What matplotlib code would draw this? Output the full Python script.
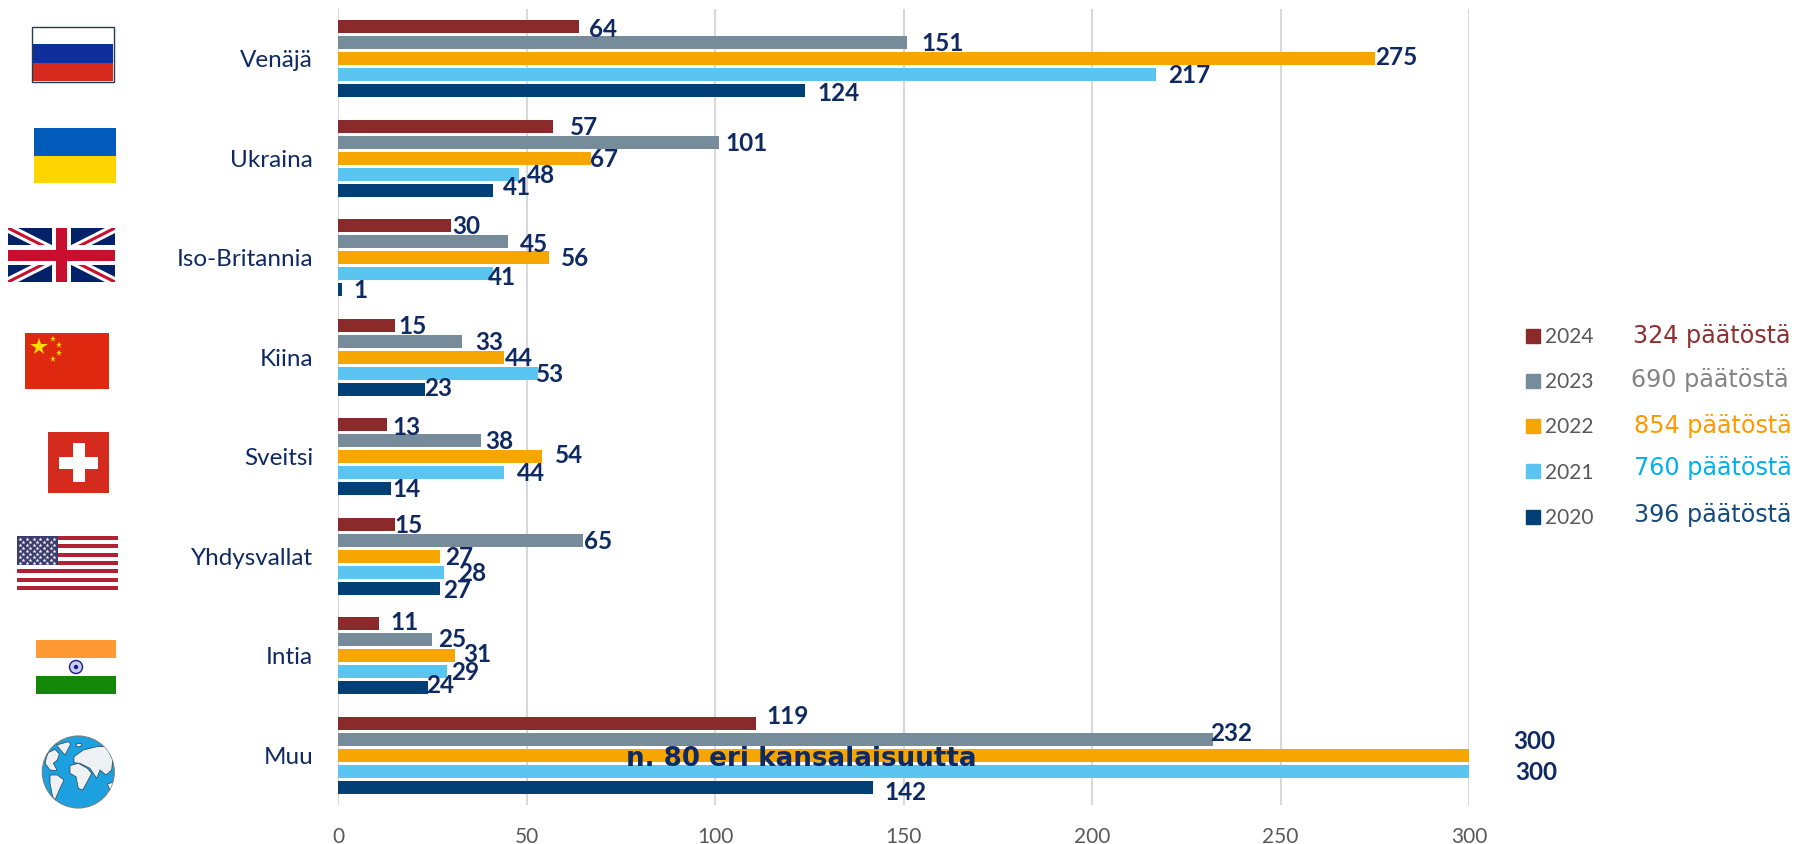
import matplotlib
matplotlib.use('Agg')
import matplotlib.pyplot as plt
from matplotlib.patches import Rectangle, Circle, Polygon
from matplotlib.lines import Line2D

maat = ['Venäjä', 'Ukraina', 'Iso-Britannia', 'Kiina', 'Sveitsi', 'Yhdysvallat', 'Intia', 'Muu']
vuodet = ['2024', '2023', '2022', '2021', '2020']

v2024 = [64, 57, 30, 15, 13, 15, 11, 119]
v2023 = [151, 101, 45, 33, 38, 65, 25, 232]
v2022 = [275, 67, 56, 44, 54, 27, 31, 300]
v2021 = [217, 48, 41, 53, 44, 28, 29, 300]
v2020 = [124, 41, 1, 23, 14, 27, 24, 142]
# the 119 bar is drawn shorter than its label in the original
pituus2024 = [64, 57, 30, 15, 13, 15, 11, 111]

paatokset = ['324 päätöstä', '690 päätöstä', '854 päätöstä', '760 päätöstä', '396 päätöstä']

varit = ['#8B2A2A', '#778C9B', '#F7A600', '#5BC5F2', '#004077']
tekstivarit = ['#8F2F2F', '#848484', '#FF9900', '#00B0F0', '#154A7D']
tummansin = '#0F2A63'

# hand placed value labels, pixels from bar end
dx = [[21, 27, 13, 16, 17, 12, 22, 27],
      [31, 24, 23, 23, 16, 13, 17, 16],
      [19, 12, 23, 13, 24, 17, 20, 57],
      [29, 19, 8, 11, 24, 25, 16, 59],
      [29, 21, 16, 12, 14, 15, 10, 28]]
dy = [[2, 1, 1, 1, 2, 1, -1, -6],
      [1, 1, 2, 1, 1, 1, 0, -5],
      [-1, 1, 1, 1, -1, 1, -1, -12],
      [1, 1, 3, 1, 1, 1, 1, 1],
      [2, -2, 1, -1, 1, 2, -2, 5]]
k = 1795 / 1568

plt.rcParams['font.family'] = ['Lato', 'DejaVu Sans']

W, H = 1795, 844
fig = plt.figure(figsize=(W / 100, H / 100), dpi=100)
ax = fig.add_axes([338 / W, 1 - 805 / H, (1469 - 338) / W, 796 / H])

pituudet = [pituus2024, v2023, v2022, v2021, v2020]
arvot = [v2024, v2023, v2022, v2021, v2020]
for s in range(5):
    ypos = [i + (s - 2) * 0.1608 for i in range(8)]
    ax.barh(ypos, pituudet[s], height=0.13, color=varit[s], zorder=3, clip_on=False, label=vuodet[s])
    for i in range(8):
        ax.annotate(str(arvot[s][i]), (pituudet[s][i], ypos[i]),
                    xytext=(dx[s][i] * k, -dy[s][i] * k), textcoords='offset pixels',
                    ha='center', va='center', fontsize=17.5, fontweight='bold',
                    color=tummansin, zorder=5, annotation_clip=False)

ax.set_xlim(0, 300)
ax.set_ylim(7.5, -0.5)
ax.set_xticks([0, 50, 100, 150, 200, 250, 300])
ax.set_yticks(range(8))
ax.set_yticklabels(maat, fontsize=17.5, color=tummansin)
ax.tick_params(axis='y', length=0, pad=18)
ax.tick_params(axis='x', length=0, pad=15.5, labelsize=15, labelcolor='#595959')
ax.grid(axis='x', color='#D9D9D9', linewidth=1.5, zorder=0)
ax.set_axisbelow(True)
for s in ax.spines.values():
    s.set_visible(False)

ax.text(123, 7.04, 'n. 80 eri kansalaisuutta', ha='center', va='center', fontsize=18.8,
        fontweight='bold', family='DejaVu Sans', color=tummansin, zorder=6)

# legend
kahvat = [Line2D([], [], linestyle='none', marker='s', markersize=10, color=c) for c in varit]
leg = fig.legend(kahvat, vuodet, loc='upper left', bbox_to_anchor=(1524.7 / W, 1 - 327 / H),
                 bbox_transform=fig.transFigure, frameon=False, fontsize=15, labelcolor='#595959',
                 labelspacing=1.21, handlelength=0.8, handletextpad=0.16, borderpad=0, borderaxespad=0)

rivit_x = [1633, 1631, 1634, 1634, 1634]
rivit_y = [336, 380, 426, 468, 515]
for t, c, x, y in zip(paatokset, tekstivarit, rivit_x, rivit_y):
    fig.text(x / W, 1 - y / H, t, color=c, fontsize=17.2, family='DejaVu Sans', ha='left', va='center')

# flags, drawn on an overlay in image pixels
fl = fig.add_axes([0, 0, 1, 1], zorder=10)
fl.set_xlim(0, W)
fl.set_ylim(H, 0)
fl.axis('off')
fl.patch.set_alpha(0)


def rect(x0, y0, x1, y1, c, z=1):
    fl.add_patch(Rectangle((x0, y0), x1 - x0, y1 - y0, facecolor=c, edgecolor='none', zorder=z))


# Venäjä
rect(33, 27, 113, 44, 'white')
rect(33, 44, 113, 63, '#0F2F9E')
rect(33, 63, 113, 81, '#D82A1E')
fl.add_patch(Rectangle((31.5, 26.5), 82, 55, facecolor='none', edgecolor='#1F3B55', linewidth=1))

# Ukraina
rect(34, 128, 116, 155.5, '#005BBB')
rect(34, 155.5, 116, 183, '#FFD500')

# Iso-Britannia
rect(8, 228, 115, 282, '#012169')
clip = Rectangle((8, 228), 107, 54, transform=fl.transData)
for a, b in [((8, 228), (115, 282)), ((8, 282), (115, 228))]:
    l = fl.plot([a[0], b[0]], [a[1], b[1]], color='white', lw=6.5, solid_capstyle='butt')[0]
    l.set_clip_path(clip)
    l = fl.plot([a[0], b[0]], [a[1], b[1]], color='#C8102E', lw=2.2, solid_capstyle='butt')[0]
    l.set_clip_path(clip)
rect(52, 228, 71, 282, 'white', 3)
rect(8, 245, 115, 265, 'white', 3)
rect(56, 228, 67, 282, '#C8102E', 4)
rect(8, 250, 115, 261, '#C8102E', 4)

# Kiina
rect(25, 333, 109, 389, '#DE2910')
fl.plot([39], [347], marker='*', markersize=13, color='#FFDE00', markeredgewidth=0)
for x, y in [(53, 339), (58.5, 344.5), (58.5, 352.5), (53, 358.5)]:
    fl.plot([x], [y], marker='*', markersize=5, color='#FFDE00', markeredgewidth=0)

# Sveitsi
rect(48, 432, 109, 493, '#D52B1E')
rect(59, 457, 98, 469, 'white')
rect(72.5, 443, 84.5, 482, 'white')

# Yhdysvallat
rect(17, 536, 118, 590, 'white')
for i in range(0, 13, 2):
    rect(17, 536 + i * 54 / 13, 118, 536 + (i + 1) * 54 / 13, '#B22234')
rect(17, 536, 57.5, 565, '#3C3B6E')
for r in range(9):
    for c in range(6 if r % 2 == 0 else 5):
        x = 20 + c * 6.8 + (0 if r % 2 == 0 else 3.4)
        fl.plot([x], [539 + r * 2.95], marker='*', markersize=3, color='white', markeredgewidth=0)

# Intia
rect(36, 640, 116, 658, '#FF9933')
rect(36, 658, 116, 676, 'white')
rect(36, 676, 116, 694, '#138808')
fl.add_patch(Circle((76, 667), 6.5, facecolor='#C9CDEB', edgecolor='#1A1A8C', linewidth=1))
fl.add_patch(Circle((76, 667), 2.2, facecolor='#1A1A8C', edgecolor='none'))

# Muu, rough globe
pallo = Circle((78.3, 772), 36, facecolor='#1CA0E0', edgecolor='#6E7F88', linewidth=0.8)
fl.add_patch(pallo)
mantereet = [
    [(170, 435), (205, 425), (212, 432), (195, 465), (180, 448)],
    [(145, 458), (165, 448), (178, 462), (172, 480), (160, 490), (172, 512), (150, 510), (135, 490), (140, 470)],
    [(150, 525), (172, 525), (192, 540), (180, 565), (165, 600), (158, 590), (150, 550)],
    [(210, 497), (235, 490), (262, 505), (275, 520), (262, 545), (248, 570), (235, 565), (228, 530), (210, 520)],
    [(222, 470), (250, 450), (290, 440), (320, 440), (338, 480), (335, 510), (318, 525), (300, 510), (290, 535),
     (270, 505), (240, 490), (222, 488)],
    [(228, 432), (245, 430), (242, 440), (230, 440)],
    [(322, 552), (345, 545), (345, 572), (330, 570)],
]
for m in mantereet:
    p = Polygon([(x / 3, 600 + y / 3) for x, y in m], closed=True, facecolor='#EDF1F3', edgecolor='#27404F',
                linewidth=0.5)
    fl.add_patch(p)
    p.set_clip_path(pallo)

fig.savefig('out.png', dpi=100, facecolor='white')
